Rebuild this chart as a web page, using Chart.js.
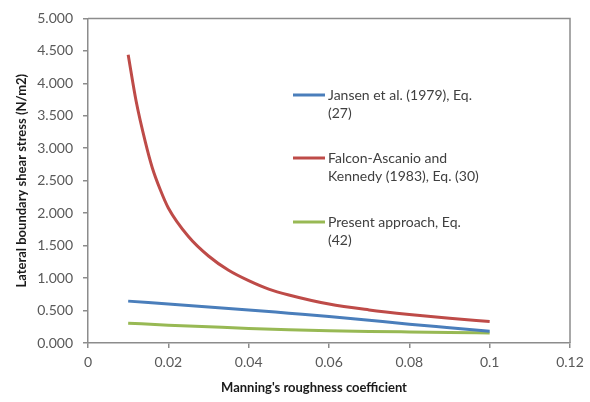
<!DOCTYPE html>
<html>
<head>
<meta charset="utf-8">
<script src="https://cdn.jsdelivr.net/npm/chart.js@4/dist/chart.umd.min.js"></script>
<style>
  html, body { margin: 0; padding: 0; background: #fff; }
  #wrap { width: 590px; height: 402px; }
</style>
</head>
<body>
<div id="wrap"><canvas id="shearChart" width="590" height="402"></canvas></div>
<script>
// values
const jansenX = [0.01, 0.02, 0.03, 0.04, 0.05, 0.06, 0.07, 0.08, 0.09, 0.1];
const jansenY = [0.645, 0.60, 0.555, 0.51, 0.46, 0.41, 0.35, 0.29, 0.235, 0.18];

const falconX = [0.01, 0.012, 0.0143, 0.016, 0.018, 0.02, 0.025, 0.03, 0.035, 0.04, 0.045, 0.05, 0.06, 0.07, 0.08, 0.09, 0.1];
const falconY = [4.44, 3.72, 3.09, 2.70, 2.36, 2.08, 1.64, 1.34, 1.12, 0.96, 0.83, 0.74, 0.60, 0.51, 0.44, 0.38, 0.33];

const presentX = [0.01, 0.02, 0.03, 0.04, 0.05, 0.06, 0.07, 0.08, 0.09, 0.1];
const presentY = [0.305, 0.275, 0.25, 0.225, 0.205, 0.19, 0.178, 0.17, 0.163, 0.155];

const legendLines = [
    ['Jansen et al. (1979), Eq.', '(27)'],
    ['Falcon-Ascanio and', 'Kennedy (1983), Eq. (30)'],
    ['Present approach, Eq.', '(42)']
];
const seriesColors = ['#4a7ebb', '#be4b48', '#98b954'];

const xTicks = [0, 0.02, 0.04, 0.06, 0.08, 0.1, 0.12];
const yTicks = [0, 0.5, 1, 1.5, 2, 2.5, 3, 3.5, 4, 4.5, 5];
const xTitle = "Manning's roughness coefficient";

function toPoints(xs, ys) {
    return xs.map((x, i) => ({ x: x, y: ys[i] }));
}

const axisColor = '#8c8c8c';
const tickFont = { family: 'Lato', size: 14 };
const titleFont = { family: 'Lato', size: 13, weight: 'bold' };

// box around the plot area, x title, and the legend that sits inside the plot
const boxAndLegend = {
    id: 'boxAndLegend',
    afterDraw(chart) {
        const ctx = chart.ctx;
        const a = chart.chartArea;
        ctx.save();
        ctx.strokeStyle = axisColor;
        ctx.lineWidth = 1.5;
        ctx.beginPath();
        ctx.moveTo(a.left, a.top);
        ctx.lineTo(a.right, a.top);
        ctx.lineTo(a.right, a.bottom);
        ctx.stroke();

        ctx.font = 'bold 13px Lato';
        ctx.fillStyle = '#1a1a1a';
        ctx.textAlign = 'center';
        ctx.textBaseline = 'middle';
        ctx.fillText(xTitle, 314, 388);

        const legendTop = [95, 158, 222];
        ctx.font = '14px Lato';
        ctx.fillStyle = '#404040';
        ctx.textAlign = 'left';
        chart.data.datasets.forEach((ds, i) => {
            const y = legendTop[i];
            ctx.strokeStyle = ds.borderColor;
            ctx.lineWidth = 3;
            ctx.beginPath();
            ctx.moveTo(293, y);
            ctx.lineTo(325, y);
            ctx.stroke();
            legendLines[i].forEach((t, j) => {
                ctx.fillText(t, 328, y + j * 18.5);
            });
        });
        ctx.restore();
    }
};

const ctx = document.getElementById('shearChart').getContext('2d');
new Chart(ctx, {
    type: 'line',
    data: {
        datasets: [
            { label: legendLines[0].join(' '), data: toPoints(jansenX, jansenY), borderColor: seriesColors[0] },
            { label: legendLines[1].join(' '), data: toPoints(falconX, falconY), borderColor: seriesColors[1] },
            { label: legendLines[2].join(' '), data: toPoints(presentX, presentY), borderColor: seriesColors[2] }
        ].map(d => Object.assign(d, {
            borderWidth: 3,
            pointRadius: 0,
            fill: false,
            cubicInterpolationMode: 'monotone'
        }))
    },
    options: {
        responsive: false,
        animation: false,
        layout: { padding: { top: 14, right: 20, left: 0, bottom: 0 } },
        plugins: {
            legend: { display: false },
            tooltip: { enabled: false }
        },
        scales: {
            x: {
                type: 'linear',
                min: 0,
                max: 0.12,
                afterBuildTicks: scale => { scale.ticks = xTicks.map(v => ({ value: v })); },
                afterFit: scale => { scale.height = 59; },
                ticks: {
                    color: '#595959',
                    font: tickFont,
                    padding: 6,
                    maxRotation: 0,
                    callback: v => String(Number(v.toFixed(2)))
                },
                grid: { drawOnChartArea: false, drawTicks: true, tickLength: 5, color: axisColor, lineWidth: 1.5 },
                border: { color: axisColor, width: 1.5 }
            },
            y: {
                min: 0,
                max: 5,
                afterBuildTicks: scale => { scale.ticks = yTicks.map(v => ({ value: v })); },
                afterFit: scale => { scale.width = 88; },
                ticks: {
                    color: '#595959',
                    font: tickFont,
                    padding: 10,
                    callback: v => v.toFixed(3)
                },
                grid: { drawOnChartArea: false, drawTicks: true, tickLength: 5, color: axisColor, lineWidth: 1.5 },
                border: { color: axisColor, width: 1.5 },
                title: {
                    display: true,
                    text: 'Lateral boundary shear stress (N/m2)',
                    color: '#1a1a1a',
                    font: titleFont,
                    padding: { top: 14, bottom: 0 }
                }
            }
        }
    },
    plugins: [boxAndLegend]
});
</script>
</body>
</html>
